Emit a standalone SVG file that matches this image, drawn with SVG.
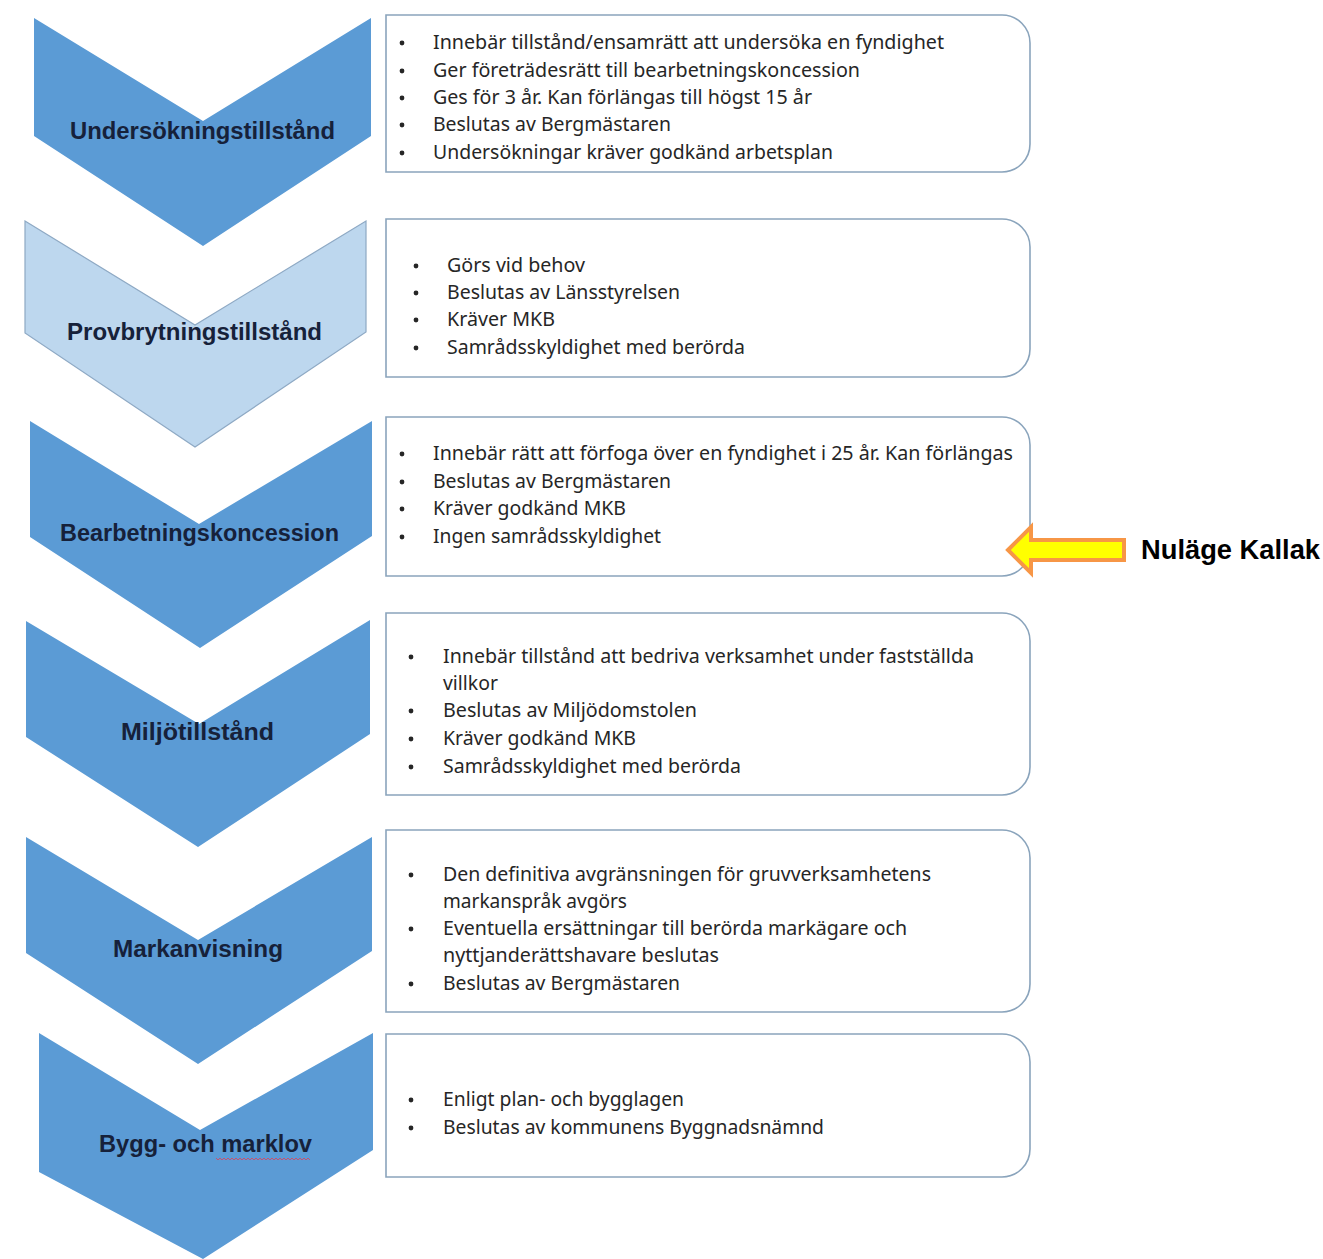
<svg xmlns="http://www.w3.org/2000/svg" width="1323" height="1259" viewBox="0 0 1323 1259">
<defs>
<style>
.chev{fill:#5b9bd5;}
.chevl{fill:#bdd7ee;stroke:#8ea9c4;stroke-width:1.2;}
.lbl{font-family:"Liberation Sans","DejaVu Sans",sans-serif;font-weight:bold;font-size:23px;fill:#16213a;text-anchor:start;}
.box{fill:#ffffff;stroke:#8aa4bc;stroke-width:1.6;}
.txt{font-family:"Noto Sans","Open Sans","DejaVu Sans",sans-serif;font-size:19px;fill:#262626;}
.bul{fill:#262626;}
.note{font-family:"Liberation Sans",Arial,sans-serif;font-weight:bold;font-size:27px;fill:#000;}
</style>
</defs>
<rect width="1323" height="1259" fill="#ffffff"/>

<g id="node-undersokning">
<path class="chev" d="M34,18 L203,121 L371,18 L371,136 L203,246 L34,136 Z"/>
<text class="lbl" x="70" y="139" textLength="265" lengthAdjust="spacingAndGlyphs">Undersökningstillstånd</text>
<path class="box" d="M386,15 H1002 A28,28 0 0 1 1030,43 V144 A28,28 0 0 1 1002,172 H386 Z"/>
<circle class="bul" cx="402" cy="43" r="2.4"/><text class="txt" x="433" y="49" textLength="511" lengthAdjust="spacingAndGlyphs">Innebär tillstånd/ensamrätt att undersöka en fyndighet</text>
<circle class="bul" cx="402" cy="71" r="2.4"/><text class="txt" x="433" y="77" textLength="427" lengthAdjust="spacingAndGlyphs">Ger företrädesrätt till bearbetningskoncession</text>
<circle class="bul" cx="402" cy="98" r="2.4"/><text class="txt" x="433" y="104" textLength="379" lengthAdjust="spacingAndGlyphs">Ges för 3 år. Kan förlängas till högst 15 år</text>
<circle class="bul" cx="402" cy="125" r="2.4"/><text class="txt" x="433" y="131" textLength="238" lengthAdjust="spacingAndGlyphs">Beslutas av Bergmästaren</text>
<circle class="bul" cx="402" cy="153" r="2.4"/><text class="txt" x="433" y="159" textLength="400" lengthAdjust="spacingAndGlyphs">Undersökningar kräver godkänd arbetsplan</text>
</g>

<g id="node-provbrytning">
<path class="chevl" d="M25,221 L195,325 L366,221 L366,332 L195,447 L25,333 Z"/>
<text class="lbl" x="67" y="340" textLength="255" lengthAdjust="spacingAndGlyphs">Provbrytningstillstånd</text>
<path class="box" d="M386,219 H1002 A28,28 0 0 1 1030,247 V349 A28,28 0 0 1 1002,377 H386 Z"/>
<circle class="bul" cx="416" cy="266" r="2.4"/><text class="txt" x="447" y="272" textLength="138" lengthAdjust="spacingAndGlyphs">Görs vid behov</text>
<circle class="bul" cx="416" cy="293" r="2.4"/><text class="txt" x="447" y="299" textLength="233" lengthAdjust="spacingAndGlyphs">Beslutas av Länsstyrelsen</text>
<circle class="bul" cx="416" cy="320" r="2.4"/><text class="txt" x="447" y="326" textLength="108" lengthAdjust="spacingAndGlyphs">Kräver MKB</text>
<circle class="bul" cx="416" cy="348" r="2.4"/><text class="txt" x="447" y="354" textLength="298" lengthAdjust="spacingAndGlyphs">Samrådsskyldighet med berörda</text>
</g>

<g id="node-bearbetning">
<path class="chev" d="M30,421 L199,524 L372,421 L372,536 L200,648 L30,537 Z"/>
<text class="lbl" x="60" y="541" textLength="279" lengthAdjust="spacingAndGlyphs">Bearbetningskoncession</text>
<path class="box" d="M386,417 H1002 A28,28 0 0 1 1030,445 V548 A28,28 0 0 1 1002,576 H386 Z"/>
<circle class="bul" cx="402" cy="454" r="2.4"/><text class="txt" x="433" y="460" textLength="580" lengthAdjust="spacingAndGlyphs">Innebär rätt att förfoga över en fyndighet i 25 år. Kan förlängas</text>
<circle class="bul" cx="402" cy="482" r="2.4"/><text class="txt" x="433" y="488" textLength="238" lengthAdjust="spacingAndGlyphs">Beslutas av Bergmästaren</text>
<circle class="bul" cx="402" cy="509" r="2.4"/><text class="txt" x="433" y="515" textLength="193" lengthAdjust="spacingAndGlyphs">Kräver godkänd MKB</text>
<circle class="bul" cx="402" cy="537" r="2.4"/><text class="txt" x="433" y="543" textLength="228" lengthAdjust="spacingAndGlyphs">Ingen samrådsskyldighet</text>
</g>

<g id="node-miljo">
<path class="chev" d="M26,621 L199,724 L370,620 L370,734 L198,847 L26,737 Z"/>
<text class="lbl" x="121" y="740" textLength="153" lengthAdjust="spacingAndGlyphs">Miljötillstånd</text>
<path class="box" d="M386,613 H1002 A28,28 0 0 1 1030,641 V767 A28,28 0 0 1 1002,795 H386 Z"/>
<circle class="bul" cx="411" cy="657" r="2.4"/><text class="txt" x="443" y="663" textLength="531" lengthAdjust="spacingAndGlyphs">Innebär tillstånd att bedriva verksamhet under fastställda</text>
<text class="txt" x="443" y="690" textLength="55" lengthAdjust="spacingAndGlyphs">villkor</text>
<circle class="bul" cx="411" cy="711" r="2.4"/><text class="txt" x="443" y="717" textLength="254" lengthAdjust="spacingAndGlyphs">Beslutas av Miljödomstolen</text>
<circle class="bul" cx="411" cy="739" r="2.4"/><text class="txt" x="443" y="745" textLength="193" lengthAdjust="spacingAndGlyphs">Kräver godkänd MKB</text>
<circle class="bul" cx="411" cy="767" r="2.4"/><text class="txt" x="443" y="773" textLength="298" lengthAdjust="spacingAndGlyphs">Samrådsskyldighet med berörda</text>
</g>

<g id="node-markanvisning">
<path class="chev" d="M26,837 L198,940 L372,837 L372,951 L198,1064 L26,953 Z"/>
<text class="lbl" x="113" y="957" textLength="170" lengthAdjust="spacingAndGlyphs">Markanvisning</text>
<path class="box" d="M386,830 H1002 A28,28 0 0 1 1030,858 V984 A28,28 0 0 1 1002,1012 H386 Z"/>
<circle class="bul" cx="411" cy="875" r="2.4"/><text class="txt" x="443" y="881" textLength="488" lengthAdjust="spacingAndGlyphs">Den definitiva avgränsningen för gruvverksamhetens</text>
<text class="txt" x="443" y="908" textLength="184" lengthAdjust="spacingAndGlyphs">markanspråk avgörs</text>
<circle class="bul" cx="411" cy="929" r="2.4"/><text class="txt" x="443" y="935" textLength="464" lengthAdjust="spacingAndGlyphs">Eventuella ersättningar till berörda markägare och</text>
<text class="txt" x="443" y="962" textLength="276" lengthAdjust="spacingAndGlyphs">nyttjanderättshavare beslutas</text>
<circle class="bul" cx="411" cy="984" r="2.4"/><text class="txt" x="443" y="990" textLength="237" lengthAdjust="spacingAndGlyphs">Beslutas av Bergmästaren</text>
</g>

<g id="node-bygg">
<path class="chev" d="M39,1033 L200,1130 L373,1033 L373,1150 L203,1259 L39,1172 Z"/>
<text class="lbl" x="99" y="1152" textLength="213" lengthAdjust="spacingAndGlyphs">Bygg- och marklov</text>
<path d="M216,1158 l2,2 l2,-2 l2,2 l2,-2 l2,2 l2,-2 l2,2 l2,-2 l2,2 l2,-2 l2,2 l2,-2 l2,2 l2,-2 l2,2 l2,-2 l2,2 l2,-2 l2,2 l2,-2 l2,2 l2,-2 l2,2 l2,-2 l2,2 l2,-2 l2,2 l2,-2 l2,2 l2,-2 l2,2 l2,-2 l2,2 l2,-2 l2,2 l2,-2 l2,2 l2,-2 l2,2 l2,-2 l2,2 l2,-2 l2,2 l2,-2 l2,2 l2,-2 l2,2" fill="none" stroke="#c8506e" stroke-width="1"/>
<path class="box" d="M386,1034 H1002 A28,28 0 0 1 1030,1062 V1149 A28,28 0 0 1 1002,1177 H386 Z"/>
<circle class="bul" cx="411" cy="1100" r="2.4"/><text class="txt" x="443" y="1106" textLength="241" lengthAdjust="spacingAndGlyphs">Enligt plan- och bygglagen</text>
<circle class="bul" cx="411" cy="1128" r="2.4"/><text class="txt" x="443" y="1134" textLength="381" lengthAdjust="spacingAndGlyphs">Beslutas av kommunens Byggnadsnämnd</text>
</g>

<g id="connectors">
<path d="M1008,550 L1031,527 L1031,540 L1124,540 L1124,560 L1031,560 L1031,573 Z" fill="#ffff00" stroke="#f79646" stroke-width="4" stroke-linejoin="miter"/>
</g>

<g id="node-nulage">
<text class="note" x="1141" y="559" textLength="179" lengthAdjust="spacingAndGlyphs">Nuläge Kallak</text>
</g>
</svg>
